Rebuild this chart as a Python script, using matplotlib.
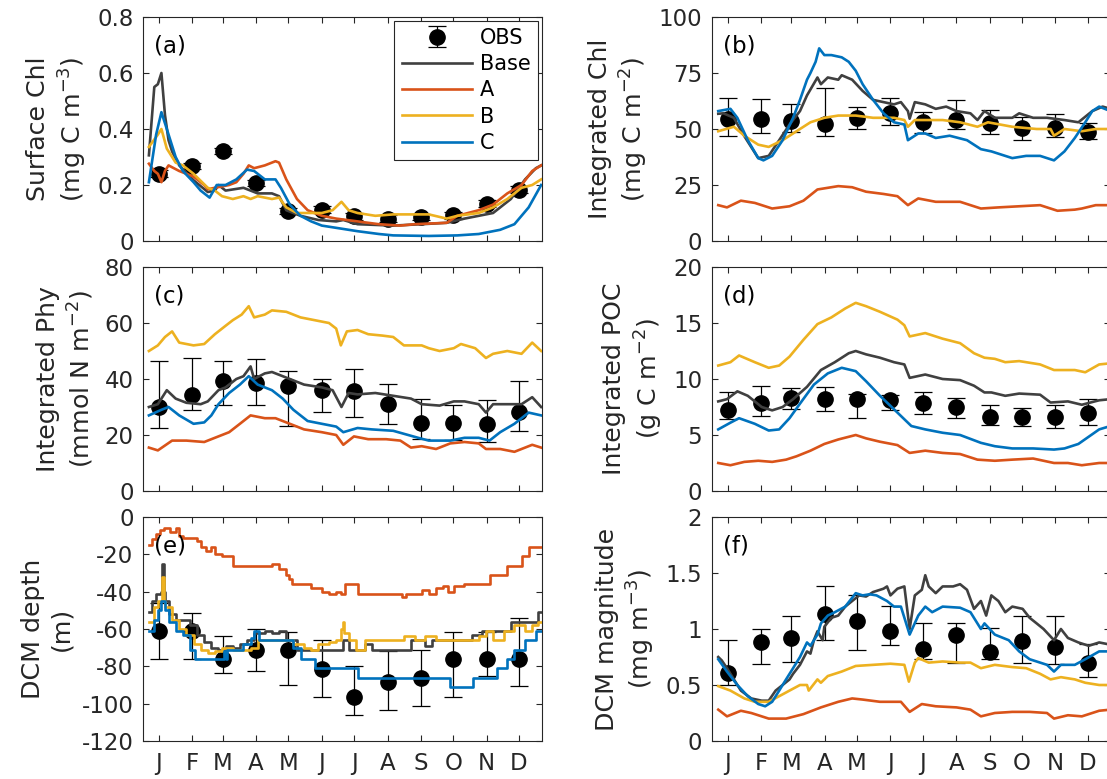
import matplotlib
matplotlib.use('Agg')
import matplotlib.pyplot as plt

plt.rcParams['font.family'] = ['DejaVu Sans']
plt.rcParams['mathtext.default'] = 'regular'
plt.rcParams['axes.unicode_minus'] = False

# ---------------- shared axis data ----------------
months = ['J', 'F', 'M', 'A', 'M', 'J', 'J', 'A', 'S', 'O', 'N', 'D']
month_days = [15, 46, 74, 105, 135, 166, 196, 227, 258, 288, 319, 349]
obs_day = [15, 46, 74, 105, 135, 166, 196, 227, 258, 288, 319, 349]
series_names = ['Base', 'A', 'B', 'C']

# ---------------- (a) Surface Chl ----------------
a_base_day = [5.7, 10.7, 14, 17.3, 20.6, 23.9, 27.2, 33.8, 47.1, 60.3, 66.9, 70.2, 76.8, 93.4, 106.6,
              119.8, 126.4, 133.1, 146.3, 162.8, 179.4, 186, 199.2, 232.3, 258.7, 281.9, 298.4, 324.9,
              341.4, 354.6, 364.6, 369.5]
a_base = [0.306, 0.55, 0.56, 0.60, 0.45, 0.36, 0.32, 0.27, 0.217, 0.175, 0.18, 0.20, 0.18, 0.19, 0.17,
          0.17, 0.16, 0.11, 0.09, 0.075, 0.07, 0.075, 0.06, 0.055, 0.06, 0.065, 0.08, 0.10,
          0.15, 0.22, 0.26, 0.27]
a_A_day = [5.7, 10.7, 14, 17.3, 20.6, 23.9, 33.8, 47.1, 57, 60.3, 66.9, 80.1, 86.8, 93.4, 98.3, 103.3,
           113.2, 123.1, 126.4, 133.1, 143, 152.9, 166.1, 179.4, 199.2, 219, 238.9, 252.1, 281.9,
           291.8, 311.6, 324.9, 338.1, 351.3, 361.2, 369.5]
a_A = [0.276, 0.25, 0.24, 0.21, 0.25, 0.27, 0.25, 0.23, 0.20, 0.185, 0.19, 0.20, 0.21, 0.24, 0.27, 0.26,
       0.27, 0.285, 0.28, 0.22, 0.15, 0.11, 0.09, 0.08, 0.07, 0.06, 0.055, 0.06, 0.065,
       0.09, 0.11, 0.13, 0.17, 0.20, 0.25, 0.27]
a_B_day = [5.7, 14, 17.3, 22.3, 30.5, 37.2, 47.1, 60.3, 66.9, 73.5, 83.5, 93.4, 100, 106.6, 119.8,
           126.4, 133.1, 143, 166.1, 176.1, 184.3, 190.9, 199.2, 215.7, 232.3, 265.3, 281.9, 291.8,
           311.6, 324.9, 338.1, 351.3, 361.2, 369.5]
a_B = [0.336, 0.38, 0.40, 0.33, 0.28, 0.27, 0.24, 0.19, 0.18, 0.16, 0.15, 0.16, 0.15, 0.16, 0.15,
       0.155, 0.12, 0.10, 0.10, 0.11, 0.14, 0.11, 0.10, 0.09, 0.095, 0.095, 0.08, 0.09,
       0.10, 0.12, 0.15, 0.19, 0.20, 0.22]
a_C_day = [5.7, 12.4, 17.3, 22.3, 30.5, 37.2, 47.1, 53.7, 62, 68.6, 76.8, 86.8, 96.7, 103.3, 113.2,
           123.1, 128.1, 136.4, 146.3, 156.2, 166.1, 182.7, 199.2, 219, 232.3, 265.3, 291.8, 311.6,
           331.5, 344.7, 357.9, 369.5]
a_C = [0.21, 0.38, 0.46, 0.40, 0.30, 0.25, 0.21, 0.18, 0.155, 0.20, 0.20, 0.22, 0.255, 0.25, 0.22,
       0.22, 0.19, 0.13, 0.09, 0.07, 0.055, 0.045, 0.035, 0.025, 0.02, 0.018, 0.02, 0.025,
       0.04, 0.06, 0.12, 0.20]
a_obs = [0.24, 0.268, 0.321, 0.207, 0.107, 0.112, 0.088, 0.080, 0.086, 0.092, 0.133, 0.183]
a_obs_lo = [0.228, 0.256, 0.309, 0.195, 0.095, 0.100, 0.076, 0.068, 0.074, 0.080, 0.121, 0.171]
a_obs_hi = [0.252, 0.280, 0.333, 0.219, 0.119, 0.124, 0.100, 0.092, 0.098, 0.104, 0.145, 0.195]

# ---------------- (b) Integrated Chl ----------------
b_base_day = [6.3, 11.1, 20.8, 28.9, 43.4, 53.1, 62.8, 72.4, 82.1, 88.6, 98.3, 101.5, 107.9, 117.6,
              120.8, 130.5, 140.2, 149.9, 159.6, 169.3, 175.7, 182.2, 183.8, 188.6, 198.3, 208, 217.7,
              227.3, 240.2, 246.7, 253.2, 262.8, 279, 285.4, 298.3, 311.2, 327.4, 340.3, 353.2,
              362.8, 370]
b_base = [56.8, 57, 55, 48, 37, 38, 45, 52, 58, 65, 73, 70, 73, 72,
          74, 72, 67, 63, 62, 61, 62, 58, 54.6, 62, 61, 59, 60,
          58, 57, 54, 58, 55, 55, 57, 55, 55, 54, 53, 58,
          60, 59]
b_A_day = [6.3, 14.4, 27.3, 40.2, 56.3, 72.4, 85.3, 98.3, 117.6, 130.5, 143.4, 159.6, 172.5, 182.2,
           191.8, 208, 230.6, 249.9, 266.1, 285.4, 304.8, 320.9, 337, 343.5, 356.4, 370]
b_A = [16, 15, 18, 17, 14.5, 15.5, 18, 23, 24.5, 24, 22, 21, 20, 16,
       19, 17.5, 17.5, 14.5, 15, 15.5, 16, 13.5, 14, 14.5, 16, 16]
b_B_day = [6.3, 20.8, 30.5, 43.4, 53.1, 66, 78.9, 91.8, 104.7, 117.6, 133.8, 149.9, 169.3, 178.9,
           182.2, 188.6, 214.4, 230.6, 246.7, 256.4, 279, 301.6, 314.5, 317.7, 327.4, 343.5, 356.4, 370]
b_B = [49, 51, 47, 43, 42, 45, 49, 53, 55, 56, 56, 55, 55, 54,
       51, 54, 54, 53, 51, 53, 51, 50, 50, 47, 50, 49, 50, 50]
b_C_day = [6.3, 17.6, 24, 33.7, 43.4, 48.2, 56.3, 66, 75.7, 82.1, 88.6, 91.8, 96.6, 99.9, 104.7,
           111.2, 120.8, 127.3, 133.8, 140.2, 149.9, 159.6, 169.3, 178.9, 182.2, 191.8, 198.3, 208,
           220.9, 237, 249.9, 259.6, 272.5, 279, 291.9, 304.8, 317.7, 327.4, 337, 346.7, 353.2,
           359.6, 370]
b_C = [58, 59, 55, 45, 37, 36, 38, 45, 55, 63, 72, 75, 80, 86, 83,
       83, 82, 80, 76, 70, 63, 57, 53, 52, 45, 48, 48, 46,
       47, 45, 41, 40, 38, 37, 38, 38, 36, 40, 46, 53, 58,
       60, 58]
b_obs = [54.5, 54.5, 53.5, 52.3, 55, 57, 53, 54, 52.5, 50.4, 50.4, 48.7]
b_obs_lo = [47, 48.2, 48.5, 47, 50, 52, 48, 50, 47.6, 45, 46.3, 45.4]
b_obs_hi = [63.8, 63.5, 61.3, 68.5, 59.8, 63.8, 57.5, 62.8, 58.3, 55.5, 56.6, 52.5]

# ---------------- (c) Integrated Phy ----------------
c_base_day = [5.7, 14, 22.3, 30.5, 40.5, 53.7, 60.3, 70.2, 76.8, 86.8, 93.4, 100, 103.3, 113.2, 119.8,
              129.8, 149.6, 166.1, 176.1, 184.3, 190.9, 199.2, 215.7, 232.3, 248.8, 258.7, 275.3,
              288.5, 298.4, 311.6, 318.3, 324.9, 338.1, 351.3, 361.2, 369.5]
c_base = [30, 31, 36, 33, 31.5, 31, 32, 36, 37, 40, 41, 44.5, 40, 42, 42.5,
          41, 38, 37, 36, 30, 35, 34.5, 35, 34, 33, 31, 30.5,
          32, 32, 31, 28, 31, 31, 31, 33.5, 30]
c_A_day = [5.7, 14, 27.2, 40.5, 57, 70.2, 80.1, 90.1, 100, 113.2, 123.1, 136.4, 149.6, 166.1, 179.4,
           186, 195.9, 209.1, 225.7, 238.9, 248.8, 258.7, 272, 285.2, 298.4, 311.6, 318.3, 331.5,
           344.7, 361.2, 369.5]
c_A = [15.5, 14.5, 18, 18, 17.5, 19.5, 21, 24, 27, 26, 26, 24, 22, 21, 20,
       16.5, 19.5, 18.5, 18.5, 18, 15.5, 16, 15, 17, 17.5, 17, 15, 15,
       14, 16.5, 15.5]
c_B_day = [5.7, 14, 20.6, 27.2, 33.8, 47.1, 57, 66.9, 76.8, 83.5, 91.7, 98.3, 103.3, 113.2, 119.8,
           133.1, 146.3, 159.5, 172.7, 179.4, 183.7, 189.3, 199.2, 209.1, 222.3, 232.3, 242.2,
           258.7, 265.3, 275.3, 288.5, 295.1, 308.3, 318.3, 324.9, 338.1, 351.3, 361.2, 369.5]
c_B = [50, 52, 55, 57, 53, 52, 52.5, 56, 59, 61, 63, 66, 62, 63, 64.5,
       64, 62, 61, 60, 58, 52, 57, 57.5, 56, 55.5, 55, 52,
       52, 51, 50, 51, 52.5, 51, 47.5, 49, 50, 49, 53, 50]
c_C_day = [5.7, 17.3, 23.9, 33.8, 47.1, 57, 63.6, 70.2, 80.1, 90.1, 98.3, 106.6, 119.8, 129.8, 139.7,
           152.9, 166.1, 179.4, 186, 199.2, 212.4, 232.3, 255.4, 265.3, 285.2, 298.4, 311.6, 321.6,
           331.5, 344.7, 357.9, 369.5]
c_C = [27, 29, 30, 27, 24, 24.5, 27, 31, 35, 38, 41, 38, 36, 33, 29,
       25, 24, 23, 21, 22.5, 22, 21.5, 19, 18, 18, 19, 19, 18,
       21, 24, 28, 27]
c_obs = [30, 34.3, 39.2, 38.7, 37.4, 36, 35.8, 31.2, 24.3, 24.2, 23.8, 28.2]
c_obs_lo = [22.5, 28.8, 30.6, 30.8, 23.2, 28.3, 26.4, 24, 18.5, 18.3, 17.5, 21.4]
c_obs_hi = [46.3, 47.5, 46.5, 47.3, 42.9, 40, 43.7, 38.3, 32.9, 30.6, 32.4, 39.2]

# ---------------- (d) Integrated POC ----------------
d_base_day = [6.3, 14.4, 24, 33.7, 46.6, 56.3, 66, 75.7, 88.6, 101.5, 114.4, 127.3, 133.8, 143.4,
              156.3, 169.3, 178.9, 183.8, 198.3, 214.4, 230.6, 243.5, 253.2, 259.6, 272.5, 285.4,
              304.8, 314.5, 330.6, 343.5, 359.6, 370]
d_base = [8, 8.2, 8.9, 8.5, 7.5, 7.2, 7.5, 8.2, 9.3, 10.8, 11.5, 12.3, 12.5, 12.2,
          11.9, 11.5, 11.3, 10.1, 10.4, 10, 9.9, 9.4, 8.8, 8.8, 8.5, 8.7,
          8.6, 7.9, 8, 7.7, 8.1, 8.2]
d_A_day = [6.3, 17.6, 30.5, 43.4, 56.3, 69.2, 78.9, 91.8, 104.7, 117.6, 133.8, 143.4, 156.3, 172.5,
           183.8, 198.3, 214.4, 230.6, 246.7, 262.8, 279, 298.3, 317.7, 330.6, 343.5, 359.6, 370]
d_A = [2.5, 2.3, 2.6, 2.7, 2.6, 2.8, 3.1, 3.6, 4.2, 4.6, 5, 4.7, 4.4, 4.1,
       3.4, 3.6, 3.4, 3.3, 2.8, 2.7, 2.8, 2.9, 2.5, 2.5, 2.3, 2.5, 2.5]
d_B_day = [6.3, 17.6, 25.6, 40.2, 53.1, 62.8, 72.4, 85.3, 98.3, 111.2, 124.1, 133.8, 143.4, 156.3,
           172.5, 178.9, 183.8, 198.3, 214.4, 230.6, 243.5, 253.2, 262.8, 272.5, 285.4, 304.8,
           317.7, 337, 346.7, 359.6, 370]
d_B = [11.2, 11.5, 12.1, 11.5, 11, 11.2, 12, 13.5, 14.9, 15.5, 16.3, 16.8, 16.5, 16,
       15.3, 14.8, 13.8, 14.1, 13.6, 13.2, 12.3, 11.9, 11.8, 11.5, 11.6, 11.3,
       10.8, 10.8, 10.6, 11.3, 11.4]
d_C_day = [6.3, 17.6, 25.6, 40.2, 53.1, 62.8, 72.4, 82.1, 95, 107.9, 120.8, 133.8, 143.4, 156.3,
           172.5, 185.4, 198.3, 214.4, 230.6, 249.9, 262.8, 279, 298.3, 317.7, 327.4, 340.3,
           359.6, 370]
d_C = [5.5, 6.1, 6.5, 6, 5.4, 5.5, 6.5, 7.8, 9.5, 10.5, 11, 10.7, 9.8, 8.5,
       7, 5.8, 5.5, 5.2, 5, 4.3, 4, 3.8, 3.8, 3.7, 3.8, 4.2,
       5.5, 5.8]
d_obs = [7.2, 7.9, 8.3, 8.2, 8.2, 8.1, 7.9, 7.5, 6.6, 6.6, 6.6, 7.0]
d_obs_lo = [6.4, 6.7, 7.3, 7.1, 6.5, 7.2, 6.9, 6.5, 5.9, 5.8, 5.6, 5.9]
d_obs_hi = [8.8, 9.35, 9.2, 9.3, 8.7, 8.6, 8.8, 8.3, 7.7, 7.4, 7.7, 8.2]

# ---------------- (e) DCM depth (step series) ----------------
e_base_day = [5.7, 9, 12, 16.5, 18.3, 19.5, 20.6, 23.9, 30.5, 43.8, 50.4, 57, 63.6, 70.2, 76.8, 83.5,
              90.1, 96.7, 103.3, 113.2, 119.8, 126.4, 133.1, 143, 186, 190.9, 205.8, 212.4, 248.8,
              262, 268.6, 305, 315, 341.4, 367, 370]
e_base = [-51, -45, -41, -40, -25, -40, -45, -52, -55, -58, -63, -67, -70, -71, -69, -70,
          -68, -66, -62, -61, -62, -61, -66, -71, -66, -71, -68, -71, -66,
          -69, -66, -63, -61, -56, -51, -51]
e_A_day = [5.7, 9, 12, 15.7, 20, 25, 30.5, 33.8, 37, 50.4, 53.7, 58.7, 63.6, 66.9, 73.5, 83.5,
           119.8, 126.4, 133.1, 136, 138, 156.2, 166.1, 172.7, 179.4, 184.3, 187.6, 194.2, 199.2,
           238.9, 240.5, 244, 258.7, 265.3, 272, 278.6, 283.5, 288.5, 298.4, 321.6, 338.1, 351.3,
           357.9, 370]
e_A = [-15, -12, -9, -7, -6, -8, -6, -10, -11, -13, -16, -18, -16, -20, -21, -26,
       -25, -28, -31, -33, -36, -38, -40, -41, -40, -41, -36, -36, -41,
       -41, -43, -41, -39, -41, -38, -37, -40, -37, -36, -31, -26, -21,
       -16, -16]
e_B_day = [5.7, 10.7, 14, 17.5, 19.5, 20.6, 27.2, 33.8, 40.5, 47.1, 53.7, 60.3, 66.9, 73.5, 83.5,
           100, 106.6, 126.4, 139.7, 149.6, 156.2, 162.8, 172.7, 179.4, 184, 185.3, 187, 190.9,
           197.5, 205.8, 238.9, 242.2, 252.1, 262, 272, 311.6, 318.3, 324.9, 334.8, 344.7, 354.6,
           361.2, 367, 370]
e_B = [-56, -48, -45, -32, -45, -48, -55, -60, -63, -68, -71, -73, -72, -70, -71,
       -70, -66, -66, -68, -70, -71, -68, -67, -66, -60, -56, -62, -66,
       -71, -66, -66, -64, -66, -64, -66, -64, -61, -66, -61, -58, -61,
       -58, -56, -56]
e_C_day = [5.7, 10.7, 14, 17.3, 20.6, 23.9, 30.5, 37.2, 43.8, 48.7, 75.2, 76.8, 78, 83.5, 93.4, 100,
           103.3, 108, 139.7, 146.3, 159.5, 199.2, 285.2, 306.7, 328.2, 338.1, 344.7, 354.6,
           364.6, 370]
e_C = [-61, -55, -50, -45, -50, -56, -61, -63, -71, -76, -72, -76, -71, -71, -68, -65,
       -61, -66, -70, -76, -81, -86, -91, -86, -81, -76, -71, -66,
       -61, -61]
e_obs = [-61, -61, -76, -71, -71, -81.4, -96.5, -88.5, -86.4, -76, -76, -76]
e_obs_lo = [-76, -76, -83.7, -82.3, -89.8, -96.2, -106, -103.6, -101, -96.2, -85, -90.8]
e_obs_hi = [-46, -51.6, -64, -60, -61.5, -66, -80, -72, -71.3, -61.5, -61.5, -53.9]

# ---------------- (f) DCM magnitude ----------------
f_base_day = [6.3, 9.5, 14.4, 20.8, 27.3, 36.9, 46.6, 53.1, 59.5, 66, 72.4, 75.7, 82.1, 88.6, 91.8,
              95, 98.3, 103.1, 104.7, 111.2, 117.6, 124.1, 130.5, 137, 143.4, 149.9, 159.6, 162.8,
              166, 172.5, 178.9, 183.8, 188.6, 195.1, 198.3, 201.5, 208, 214.4, 224.1, 230.6, 237,
              243.5, 249.9, 254.8, 259.6, 266.1, 272.5, 279, 288.6, 295.1, 301.6, 308, 317.7, 324.1,
              330.6, 340.3, 349.9, 359.6, 370]
f_base = [0.75, 0.72, 0.65, 0.55, 0.45, 0.38, 0.36, 0.36, 0.45, 0.5, 0.55, 0.6, 0.68, 0.8, 0.78,
          0.9, 0.98, 0.9, 1.02, 1.1, 1.12, 1.2, 1.25, 1.3, 1.29, 1.33, 1.36, 1.38,
          1.3, 1.36, 1.38, 1.0, 1.3, 1.35, 1.48, 1.38, 1.32, 1.38, 1.38, 1.4, 1.35,
          1.18, 1.25, 1.12, 1.3, 1.25, 1.15, 1.2, 1.18, 1.1, 1.05, 1.0, 0.9, 1.0,
          0.92, 0.88, 0.85, 0.88, 0.86]
f_A_day = [6.3, 14.4, 27.3, 36.9, 53.1, 69.2, 85.3, 101.5, 117.6, 130.5, 140.2, 156.3, 175.7, 183.8,
           195.1, 208, 227.3, 240.2, 249.9, 262.8, 279, 295.1, 311.2, 317.7, 330.6, 343.5, 359.6, 370]
f_A = [0.28, 0.22, 0.27, 0.25, 0.2, 0.2, 0.24, 0.3, 0.35, 0.38, 0.37, 0.35, 0.35, 0.26,
       0.33, 0.31, 0.3, 0.28, 0.22, 0.25, 0.26, 0.26, 0.25, 0.2, 0.23, 0.22, 0.27, 0.28]
f_B_day = [6.3, 17.6, 30.5, 40.2, 53.1, 62.8, 72.4, 82.1, 88.6, 90.2, 98.3, 101.5, 107.9, 120.8,
           133.8, 149.9, 166, 178.9, 183.1, 188.6, 191.8, 201.5, 214.4, 230.6, 240.2, 249.9, 262.8,
           279, 291.9, 304.8, 314.5, 324.1, 337, 346.7, 359.6, 370]
f_B = [0.49, 0.45, 0.38, 0.35, 0.35, 0.4, 0.45, 0.5, 0.5, 0.45, 0.55, 0.52, 0.58, 0.62,
       0.67, 0.68, 0.69, 0.68, 0.53, 0.7, 0.74, 0.7, 0.71, 0.7, 0.7, 0.65, 0.68,
       0.66, 0.65, 0.6, 0.55, 0.57, 0.55, 0.52, 0.5, 0.5]
f_C_day = [6.3, 14.4, 24, 33.7, 43.4, 49.8, 56.3, 62.8, 69.2, 75.7, 82.1, 88.6, 91.8, 98.3, 101.5,
           107.9, 114.4, 124.1, 133.8, 140.2, 146.7, 153.1, 162.8, 169.3, 175.7, 183.8, 191.8,
           198.3, 204.7, 214.4, 230.6, 240.2, 249.9, 253.2, 262.8, 275.7, 285.4, 295.1, 304.8,
           311.2, 317.7, 324.1, 337, 346.7, 359.6, 370]
f_C = [0.73, 0.62, 0.5, 0.4, 0.33, 0.31, 0.35, 0.45, 0.55, 0.65, 0.75, 0.88, 0.85, 0.95, 1.05,
       1.12, 1.15, 1.2, 1.32, 1.3, 1.31, 1.3, 1.25, 1.2, 1.2, 0.95, 1.12,
       1.2, 1.15, 1.2, 1.19, 1.15, 1.0, 1.05, 0.95, 0.9, 0.8, 0.73, 0.7,
       0.68, 0.62, 0.68, 0.68, 0.73, 0.8, 0.8]
f_obs = [0.607, 0.884, 0.923, 1.131, 1.071, 0.982, 0.818, 0.943, 0.797, 0.896, 0.84, 0.70]
f_obs_lo = [0.5, 0.685, 0.705, 0.905, 0.815, 0.854, 0.73, 0.70, 0.73, 0.70, 0.69, 0.574]
f_obs_hi = [0.905, 1.003, 1.116, 1.381, 1.30, 1.202, 1.054, 1.054, 1.006, 1.12, 1.12, 0.87]

# ---------------- styling ----------------
COL = {'Base': '#404040', 'A': '#D95319', 'B': '#EDB120', 'C': '#0072BD'}
AXC = '#262626'
TICK_FS = 16.5
LABEL_FS = 18.2
LEG_FS = 15

FIG_W, FIG_H = 1107, 779
fig = plt.figure(figsize=(FIG_W / 100, FIG_H / 100), dpi=100)

AX_W, AX_H = 398.4, 224
col_left = [143.3, 712.0]
row_top = [17, 267, 517]


def make_ax(col, row):
    x0 = col_left[col] / FIG_W
    y0 = (FIG_H - row_top[row] - AX_H) / FIG_H
    return fig.add_axes([x0, y0, AX_W / FIG_W, AX_H / FIG_H])


def draw_panel(ax, lines, obs, lo, hi, ylim, yticks, yticklabels, ylabel, tag,
               steps=False, xlabels=False):
    yerr = [[o - l for o, l in zip(obs, lo)], [h - o for o, h in zip(obs, hi)]]
    eb = ax.errorbar(obs_day, obs, yerr=yerr, fmt='o', color='k', ms=11,
                     ecolor='k', elinewidth=0.9, capsize=6.5, capthick=0.9,
                     zorder=2, label='OBS')
    handles = [eb]
    for name, (dd, vv) in zip(series_names, lines):
        ln, = ax.plot(dd, vv, color=COL[name], lw=1.9, zorder=3, label=name,
                      drawstyle='steps-post' if steps else 'default')
        handles.append(ln)
    ax.set_xlim(0.5, 370)
    ax.set_ylim(*ylim)
    ax.set_yticks(yticks)
    ax.set_yticklabels(yticklabels)
    ax.set_xticks(month_days)
    if xlabels:
        ax.set_xticklabels(months)
    else:
        ax.set_xticklabels([])
    ax.tick_params(direction='in', length=4.5, width=0.8, colors=AXC,
                   labelsize=TICK_FS, top=True, right=True, pad=7)
    ax.tick_params(axis='x', pad=8)
    for sp in ax.spines.values():
        sp.set_color(AXC)
        sp.set_linewidth(0.8)
    ax.set_ylabel(ylabel, fontsize=LABEL_FS, color=AXC, labelpad=6, linespacing=1.25)
    ax.text(10.7 / AX_W, 1 - 29 / AX_H, tag, transform=ax.transAxes,
            ha='left', va='center', fontsize=TICK_FS, color='k', zorder=5)
    return handles


ax_a = make_ax(0, 0)
h = draw_panel(ax_a, [(a_base_day, a_base), (a_A_day, a_A), (a_B_day, a_B), (a_C_day, a_C)],
               a_obs, a_obs_lo, a_obs_hi, (0, 0.8), [0, 0.2, 0.4, 0.6, 0.8],
               ['0', '0.2', '0.4', '0.6', '0.8'], 'Surface Chl\n(mg C m$^{-3}$)', '(a)')
leg = ax_a.legend(handles=h, loc='upper right',
                  bbox_to_anchor=(1 - 4 / AX_W, 1 - 3.7 / AX_H), borderaxespad=0,
                  fontsize=LEG_FS, frameon=True, fancybox=False, framealpha=1,
                  edgecolor=AXC, handlelength=3.4, handletextpad=0.35,
                  labelspacing=0.3, borderpad=0.35)
leg.get_frame().set_linewidth(0.8)
leg.set_zorder(10)

ax_b = make_ax(1, 0)
draw_panel(ax_b, [(b_base_day, b_base), (b_A_day, b_A), (b_B_day, b_B), (b_C_day, b_C)],
           b_obs, b_obs_lo, b_obs_hi, (0, 100), [0, 25, 50, 75, 100],
           ['0', '25', '50', '75', '100'], 'Integrated Chl\n(mg C m$^{-2}$)', '(b)')

ax_c = make_ax(0, 1)
draw_panel(ax_c, [(c_base_day, c_base), (c_A_day, c_A), (c_B_day, c_B), (c_C_day, c_C)],
           c_obs, c_obs_lo, c_obs_hi, (0, 80), [0, 20, 40, 60, 80],
           ['0', '20', '40', '60', '80'], 'Integrated Phy\n(mmol N m$^{-2}$)', '(c)')

ax_d = make_ax(1, 1)
draw_panel(ax_d, [(d_base_day, d_base), (d_A_day, d_A), (d_B_day, d_B), (d_C_day, d_C)],
           d_obs, d_obs_lo, d_obs_hi, (0, 20), [0, 5, 10, 15, 20],
           ['0', '5', '10', '15', '20'], 'Integrated POC\n(g C m$^{-2}$)', '(d)')

ax_e = make_ax(0, 2)
draw_panel(ax_e, [(e_base_day, e_base), (e_A_day, e_A), (e_B_day, e_B), (e_C_day, e_C)],
           e_obs, e_obs_lo, e_obs_hi, (-120, 0), [-120, -100, -80, -60, -40, -20, 0],
           ['-120', '-100', '-80', '-60', '-40', '-20', '0'], 'DCM depth\n(m)', '(e)',
           steps=True, xlabels=True)

ax_f = make_ax(1, 2)
draw_panel(ax_f, [(f_base_day, f_base), (f_A_day, f_A), (f_B_day, f_B), (f_C_day, f_C)],
           f_obs, f_obs_lo, f_obs_hi, (0, 2), [0, 0.5, 1, 1.5, 2],
           ['0', '0.5', '1', '1.5', '2'], 'DCM magnitude\n(mg m$^{-3}$)', '(f)',
           xlabels=True)

fig.savefig('out.png', dpi=100)
